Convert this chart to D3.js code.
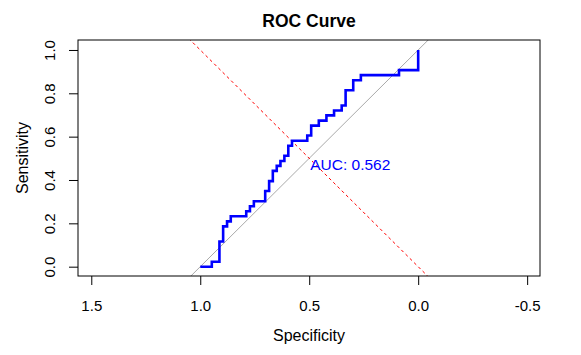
<!DOCTYPE html>
<html>
<head>
<meta charset="utf-8">
<script src="https://cdn.jsdelivr.net/npm/d3@7"></script>
<style>
  html, body { margin: 0; padding: 0; background: #fff; }
  svg { display: block; font-family: "Liberation Sans", Arial, sans-serif; }
</style>
</head>
<body>
<svg id="chart" width="581" height="355"></svg>
<script>
// ROC curve vertices
const specificity = [1.000,0.947,0.947,0.912,0.912,0.895,0.895,0.877,0.877,0.860,0.860,0.789,0.789,0.772,0.772,0.754,0.754,0.702,0.702,0.684,0.684,0.667,0.667,0.649,0.649,0.632,0.632,0.614,0.614,0.596,0.596,0.579,0.579,0.509,0.509,0.491,0.491,0.456,0.456,0.421,0.421,0.386,0.386,0.351,0.351,0.333,0.333,0.298,0.298,0.263,0.263,0.088,0.088,0.000,0.000];
const sensitivity = [0,0,0.023,0.023,0.116,0.116,0.186,0.186,0.209,0.209,0.233,0.233,0.256,0.256,0.279,0.279,0.302,0.302,0.349,0.349,0.395,0.395,0.442,0.442,0.465,0.465,0.488,0.488,0.512,0.512,0.558,0.558,0.581,0.581,0.605,0.605,0.651,0.651,0.674,0.674,0.698,0.698,0.721,0.721,0.744,0.744,0.814,0.814,0.860,0.860,0.884,0.884,0.907,0.907,1.000];
const xTicks = [1.5, 1.0, 0.5, 0.0, -0.5];
const yTicks = [0.0, 0.2, 0.4, 0.6, 0.8, 1.0];
const aucLabel = "AUC: 0.562";
const aucPos = [0.5, 0.5];
const titleText = "ROC Curve";
const xTitle = "Specificity";
const yTitle = "Sensitivity";

const svg = d3.select("#chart");
const L = 78, R = 540, T = 40, B = 276;
const x = d3.scaleLinear().domain([1.561, -0.559]).range([L, R]);
const y = d3.scaleLinear().domain([-0.043, 1.046]).range([B, T]);

svg.append("defs").append("clipPath").attr("id", "clip")
  .append("rect").attr("x", L).attr("y", T).attr("width", R - L).attr("height", B - T);

const plot = svg.append("g").attr("clip-path", "url(#clip)");

// identity (chance) line: sens = 1 - spec
const xd = x.domain();
plot.append("line")
  .attr("x1", x(xd[0])).attr("y1", y(1 - xd[0]))
  .attr("x2", x(xd[1])).attr("y2", y(1 - xd[1]))
  .attr("stroke", "#a9a9a9").attr("stroke-width", 1);

// red dashed line: sens = spec
plot.append("line")
  .attr("x1", x(xd[0])).attr("y1", y(xd[0]))
  .attr("x2", x(xd[1])).attr("y2", y(xd[1]))
  .attr("stroke", "#ff0000").attr("stroke-width", 1)
  .attr("stroke-dasharray", "3,3");

// ROC curve
const pts = specificity.map((s, i) => [s, sensitivity[i]]);
plot.append("path")
  .attr("d", d3.line().x(d => x(d[0])).y(d => y(d[1]))(pts))
  .attr("fill", "none").attr("stroke", "#0000ff").attr("stroke-width", 2.6)
  .attr("stroke-linejoin", "miter").attr("stroke-linecap", "butt");

// AUC text
svg.append("text")
  .attr("x", x(aucPos[0]) + 1).attr("y", y(aucPos[1]) + 12)
  .attr("fill", "#0000ff").attr("font-size", 15.5)
  .text(aucLabel);

// box
svg.append("rect").attr("x", L).attr("y", T).attr("width", R - L).attr("height", B - T)
  .attr("fill", "none").attr("stroke", "#000").attr("stroke-width", 1);

// x axis
const xAxis = d3.axisBottom(x).tickValues(xTicks).tickSize(9).tickPadding(15)
  .tickFormat(d3.format(".1f"));
const gx = svg.append("g").attr("transform", `translate(0,${B})`).call(xAxis);
gx.select(".domain").remove();
gx.selectAll("line").attr("stroke", "#000");
gx.selectAll("text").attr("font-size", 15).attr("fill", "#000")
  .attr("font-family", "Liberation Sans, Arial, sans-serif")
  .text(d => d3.format(".1f")(d).replace("−", "-"));

// y axis
const yAxis = d3.axisLeft(y).tickValues(yTicks).tickSize(9).tickFormat(d3.format(".1f"));
const gy = svg.append("g").attr("transform", `translate(${L},0)`).call(yAxis);
gy.select(".domain").remove();
gy.selectAll("line").attr("stroke", "#000");
gy.selectAll("text").remove();
gy.selectAll(".tick").append("text")
  .attr("transform", "translate(-28.5,0) rotate(-90)")
  .attr("text-anchor", "middle").attr("dy", "0.35em")
  .attr("font-size", 15).attr("fill", "#000")
  .attr("font-family", "Liberation Sans, Arial, sans-serif")
  .text(d => d3.format(".1f")(d));

// titles
svg.append("text").attr("x", (L + R) / 2).attr("y", 26.5).attr("text-anchor", "middle")
  .attr("font-size", 17.5).attr("font-weight", "bold").text(titleText);
svg.append("text").attr("x", (L + R) / 2).attr("y", 340.5).attr("text-anchor", "middle")
  .attr("font-size", 16).text(xTitle);
svg.append("text").attr("transform", `translate(28,${(T + B) / 2 + 0}) rotate(-90)`)
  .attr("text-anchor", "middle").attr("font-size", 16).text(yTitle);
</script>
</body>
</html>
